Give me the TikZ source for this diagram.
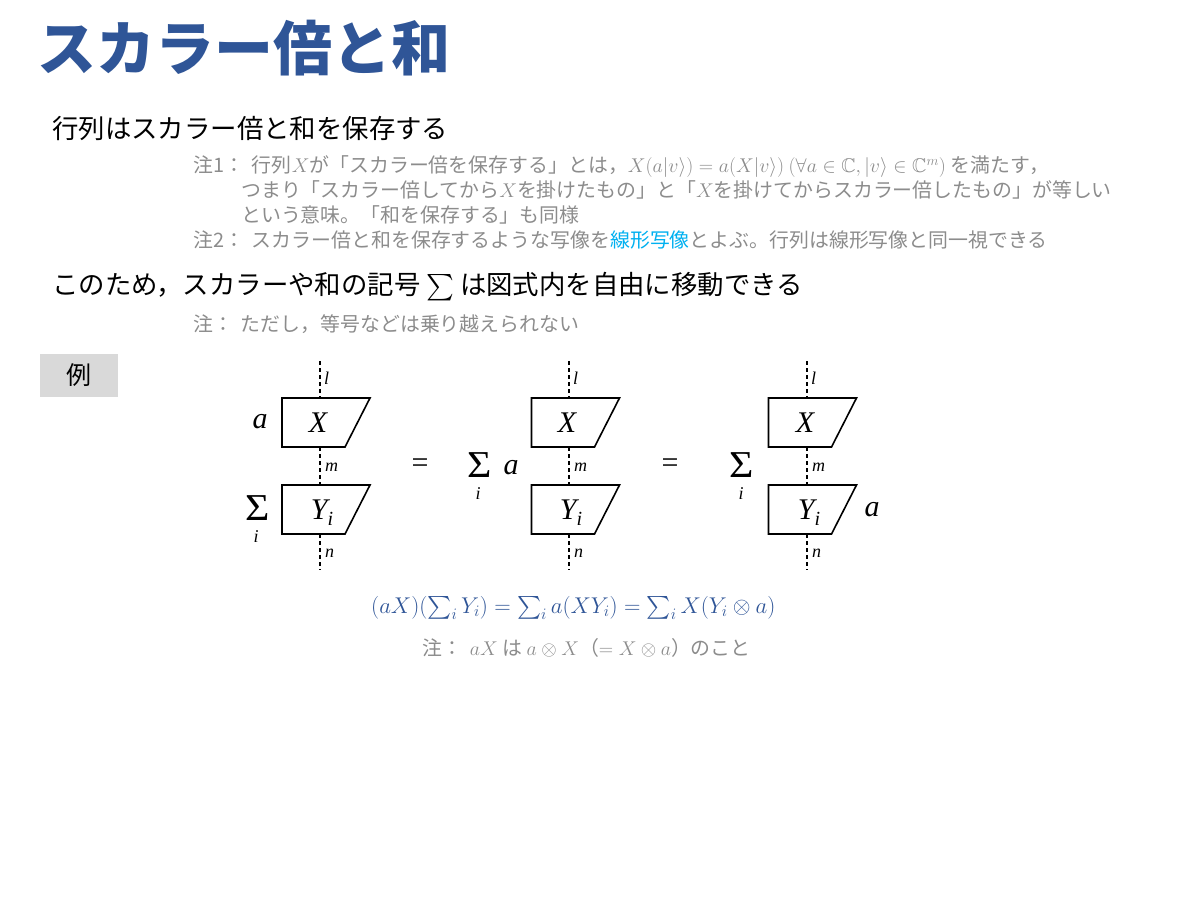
\RequirePackage{fix-cm}
\documentclass[tikz,border=0pt]{standalone}
\usepackage{graphicx}
\usepackage{amsmath,amssymb}
\usepackage[no-math]{fontspec}
\setmainfont{Noto Sans CJK JP}
\newfontfamily\tms{Liberation Serif}
\definecolor{titleblue}{HTML}{2F5597}
\definecolor{notegray}{HTML}{8C8C8C}
\definecolor{linkblue}{HTML}{00B0F0}
\definecolor{exgray}{HTML}{D9D9D9}
\newcommand{\bigsig}{\scalebox{1.1}[1]{\tms\fontsize{38}{38}\selectfont Σ}}
\begin{document}
\begin{tikzpicture}[x=1pt,y=-1pt,
  txt/.style={anchor=west,inner sep=0pt,font=\fontsize{26.4}{30}\selectfont},
  note/.style={anchor=west,inner sep=0pt,text=notegray,font=\fontsize{19.9}{24}\selectfont},
  pbox/.style={minimum width=88pt,minimum height=49pt,inner sep=0pt,outer sep=0pt},
  wire/.style={dash pattern=on 4pt off 3pt,line width=1.3pt},
  para/.style={draw,line width=1.6pt},
  sym/.style={inner sep=0pt,font=\tms\itshape\fontsize{30}{30}\selectfont},
  sig/.style={inner sep=0pt},
  idx/.style={inner sep=0pt,font=\tms\itshape\fontsize{18}{18}\selectfont},
  wlab/.style={anchor=west,inner sep=0pt,font=\tms\itshape\fontsize{18}{18}\selectfont}]
\useasboundingbox (0,0) rectangle (1200,900);

% title
\node[anchor=west,inner sep=0pt,text=titleblue,font=\bfseries\fontsize{59}{60}\selectfont] (title) at (37,48) {スカラー倍と和};

\node[txt] (l1) at (52,128) {行列はスカラー倍と和を保存する};
\node[note] (n1) at (193,167) {注1：\hspace{0.4em}行列$X$が「スカラー倍を保存する」とは，$X(a|v\rangle)=a(X|v\rangle)$ $(\forall a\in\mathbb{C},|v\rangle\in\mathbb{C}^m)$ を満たす，};
\node[note] (n2) at (241,190) {つまり「スカラー倍してから$X$を掛けたもの」と「$X$を掛けてからスカラー倍したもの」が等しい};
\node[note] (n3) at (241,215) {という意味。「和を保存する」も同様};
\node[note] (n4) at (193,240) {注2：\hspace{0.4em}スカラー倍と和を保存するような写像を\textcolor{linkblue}{線形写像}とよぶ。行列は線形写像と同一視できる};

\node[txt] (l2) at (52,285) {このため，スカラーや和の記号 \smash{$\sum$} は図式内を自由に移動できる};
\node[note] (n5) at (193,324) {注：\hspace{0.4em}ただし，等号などは乗り越えられない};

\node[fill=exgray,minimum width=78pt,minimum height=43pt,inner sep=0pt,font=\fontsize{25}{30}\selectfont] (ex) at (79,375.5) {例};

% diagram 1
\coordinate (t1) at (320,361); \coordinate (b1) at (320,570);
\node[pbox] (X1) at (326,422.5) {};
\node[pbox] (Y1) at (326,509.5) {};
\foreach \B in {X1,Y1}{
  \draw[para] (\B.north west) -- (\B.north east) -- ([xshift=-25pt]\B.south east) -- (\B.south west) -- cycle;}
\draw[wire] (t1) -- (t1 |- X1.north);
\draw[wire] (X1.south -| t1) -- (Y1.north -| t1);
\draw[wire] (Y1.south -| t1) -- (b1);
\node[sym] (X1t) at (318,423) {X};
\node[sym] (Y1t) at (322,513) {Y\raisebox{-6pt}{\fontsize{20}{20}\selectfont i}};
\node[wlab] (l1l) at (324,378) {l};
\node[wlab] (l1m) at (325,467) {m};
\node[wlab] (l1n) at (325,553) {n};
\node[sym] (a1) at (260,422) {a};
\node[sig] (s1) at (258,508) {\bigsig};
\node[idx] (i1) at (256,537) {i};

\node[inner sep=0pt,font=\tms\fontsize{30}{30}\selectfont] (eq1) at (420,466) {=};

% diagram 2
\coordinate (t2) at (569,361); \coordinate (b2) at (569,570);
\node[pbox] (X2) at (575.5,422.5) {};
\node[pbox] (Y2) at (575.5,509.5) {};
\foreach \B in {X2,Y2}{
  \draw[para] (\B.north west) -- (\B.north east) -- ([xshift=-25pt]\B.south east) -- (\B.south west) -- cycle;}
\draw[wire] (t2) -- (t2 |- X2.north);
\draw[wire] (X2.south -| t2) -- (Y2.north -| t2);
\draw[wire] (Y2.south -| t2) -- (b2);
\node[sym] (X2t) at (567,423) {X};
\node[sym] (Y2t) at (571,513) {Y\raisebox{-6pt}{\fontsize{20}{20}\selectfont i}};
\node[wlab] (l2l) at (573,378) {l};
\node[wlab] (l2m) at (574,467) {m};
\node[wlab] (l2n) at (574,553) {n};
\node[sig] (s2) at (480,465) {\bigsig};
\node[idx] (i2) at (478,494) {i};
\node[sym] (a2) at (511,468) {a};

\node[inner sep=0pt,font=\tms\fontsize{30}{30}\selectfont] (eq2) at (670,466) {=};

% diagram 3
\coordinate (t3) at (807,361); \coordinate (b3) at (807,570);
\node[pbox] (X3) at (812.5,422.5) {};
\node[pbox] (Y3) at (812.5,509.5) {};
\foreach \B in {X3,Y3}{
  \draw[para] (\B.north west) -- (\B.north east) -- ([xshift=-25pt]\B.south east) -- (\B.south west) -- cycle;}
\draw[wire] (t3) -- (t3 |- X3.north);
\draw[wire] (X3.south -| t3) -- (Y3.north -| t3);
\draw[wire] (Y3.south -| t3) -- (b3);
\node[sym] (X3t) at (805,423) {X};
\node[sym] (Y3t) at (809,513) {Y\raisebox{-6pt}{\fontsize{20}{20}\selectfont i}};
\node[wlab] (l3l) at (811,378) {l};
\node[wlab] (l3m) at (812,467) {m};
\node[wlab] (l3n) at (812,553) {n};
\node[sig] (s3) at (742,465) {\bigsig};
\node[idx] (i3) at (741,494) {i};
\node[sym] (a3) at (872,510) {a};

% equation
\node[anchor=west,inner sep=0pt,text=titleblue,font=\fontsize{22.8}{26}\selectfont] (eqn) at (371,608)
  {$(aX)(\textstyle\sum_i Y_i)=\sum_i a(XY_i)=\sum_i X(Y_i\otimes a)$};
\node[note,font=\fontsize{19.9}{24}\selectfont] (n6) at (422,648) {注：\hspace{0.4em}$aX$ は $a\otimes X$（$=X\otimes a$）のこと};
\end{tikzpicture}
\end{document}
